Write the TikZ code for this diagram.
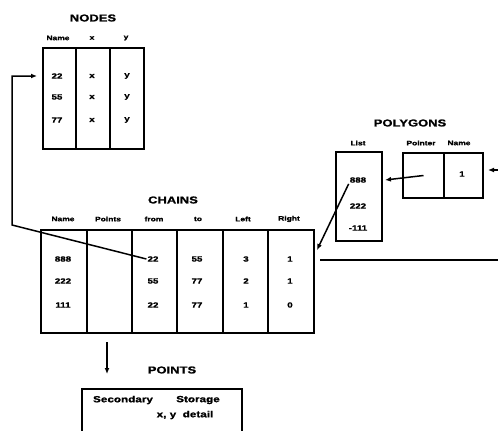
\documentclass[tikz,border=0pt]{standalone}
\usepackage{fontspec}
\setmainfont[FakeStretch=1.3, BoldFeatures={FakeBold=1.2}]{Liberation Sans}
\usetikzlibrary{arrows.meta}
\begin{document}
\begin{tikzpicture}[x=1pt,y=-1pt,
  cellbox/.style={draw, line width=2pt, inner sep=0pt, anchor=north west},
  ttl/.style={font=\fontsize{10}{11}\selectfont\bfseries, inner sep=0pt},
  hdr/.style={font=\fontsize{6.5}{7}\selectfont\bfseries, inner sep=0pt},
  val/.style={font=\fontsize{7.5}{8}\selectfont\bfseries, inner sep=1pt},
  big/.style={font=\fontsize{9}{10}\selectfont\bfseries, inner sep=0pt},
  arr/.style={line width=1.5pt, -{Latex[length=6pt,width=5pt]}},
  plain/.style={line width=1.5pt}]
\useasboundingbox (0,0) rectangle (498,431);

% ---------- NODES ----------
\node[ttl] (tnodes) at (93,18) {NODES};
\node[cellbox, minimum width=33pt, minimum height=101pt] (nname) at (42,47) {};
\node[cellbox, minimum width=34pt, minimum height=101pt] (nx) at (75,47) {};
\node[cellbox, minimum width=34pt, minimum height=101pt] (ny) at (109,47) {};
\node[hdr] (hnname) at (58,38) {Name};
\node[hdr] (hnx) at (92,38) {x};
\node[hdr] (hny) at (126,38) {y};
\node[val] (n22) at (57,76) {22};
\node[val] (n55) at (57,97) {55};
\node[val] (n77) at (57,120) {77};
\node[val] (nx1) at (92,76) {x};
\node[val] (nx2) at (92,97) {x};
\node[val] (nx3) at (92,120) {x};
\node[val] (ny1) at (127,76) {y};
\node[val] (ny2) at (127,97) {y};
\node[val] (ny3) at (127,120) {y};

% ---------- CHAINS ----------
\node[ttl] (tchains) at (173,200) {CHAINS};
\node[cellbox, minimum width=46pt, minimum height=103pt] (cname) at (40,229) {};
\node[cellbox, minimum width=45pt, minimum height=103pt] (cpoints) at (86,229) {};
\node[cellbox, minimum width=45pt, minimum height=103pt] (cfrom) at (131,229) {};
\node[cellbox, minimum width=46pt, minimum height=103pt] (cto) at (176,229) {};
\node[cellbox, minimum width=45pt, minimum height=103pt] (cleft) at (222,229) {};
\node[cellbox, minimum width=46pt, minimum height=103pt] (cright) at (267,229) {};
\node[hdr] (hcname) at (63,219) {Name};
\node[hdr] (hcpoints) at (108,219) {Points};
\node[hdr] (hcfrom) at (154,219) {from};
\node[hdr] (hcto) at (198,219) {to};
\node[hdr] (hcleft) at (243,219) {Left};
\node[hdr] (hcright) at (289,219) {Right};
\node[val] (c888) at (63,259) {888};
\node[val] (c222) at (63,281) {222};
\node[val] (c111) at (63,305) {111};
\node[val] (cf1) at (153,259) {22};
\node[val] (cf2) at (153,281) {55};
\node[val] (cf3) at (153,305) {22};
\node[val] (ct1) at (197,259) {55};
\node[val] (ct2) at (197,281) {77};
\node[val] (ct3) at (197,305) {77};
\node[val] (cl1) at (246,259) {3};
\node[val] (cl2) at (246,281) {2};
\node[val] (cl3) at (246,305) {1};
\node[val] (cr1) at (290,259) {1};
\node[val] (cr2) at (290,281) {1};
\node[val] (cr3) at (290,305) {0};

% ---------- POLYGONS ----------
\node[ttl] (tpoly) at (410,123) {POLYGONS};
\node[cellbox, minimum width=46pt, minimum height=89pt] (plist) at (335,151) {};
\node[cellbox, minimum width=41pt, minimum height=45pt] (pptr) at (402,152) {};
\node[cellbox, minimum width=39pt, minimum height=45pt] (pname) at (443,152) {};
\node[hdr] (hplist) at (358,143) {List};
\node[hdr] (hpptr) at (421,143) {Pointer};
\node[hdr] (hpname) at (459,143) {Name};
\node[val] (l888) at (358,180) {888};
\node[val] (l222) at (358,206) {222};
\node[val] (l111) at (358,228) {-111};
\node[val] (pn1) at (462,174) {1};

% ---------- POINTS ----------
\node[ttl] (tpoints) at (172,370) {POINTS};
\draw[line width=2pt] (82,431) -- (82,389) -- (242,389) -- (242,431);
\node[big] (psec) at (123,400) {Secondary};
\node[big] (psto) at (198,400) {Storage};
\node[big] (pxy) at (185,415) {x, y\ \ detail};

% ---------- connectors ----------
\coordinate (bend) at (12,225);
\coordinate (ntip) at (37,76);
\draw[arr] (cf1.west) -- (bend) |- (ntip);

\coordinate (ltip) at (385,180);
\draw[arr] (pptr.center) -- (ltip);

\coordinate (ctip) at (317,250);
\draw[arr] (l888.south west) -- (ctip);

\coordinate (rin) at (498,170);
\coordinate (rtip) at (488,170);
\draw[arr] (rin) -- (rtip);

\coordinate (hl1) at (320,260);
\coordinate (hl2) at (498,260);
\draw[plain] (hl1) -- (hl2);

\coordinate (dstart) at (107,342);
\coordinate (dtip) at (107,374);
\draw[arr] (dstart) -- (dtip);
\end{tikzpicture}
\end{document}
